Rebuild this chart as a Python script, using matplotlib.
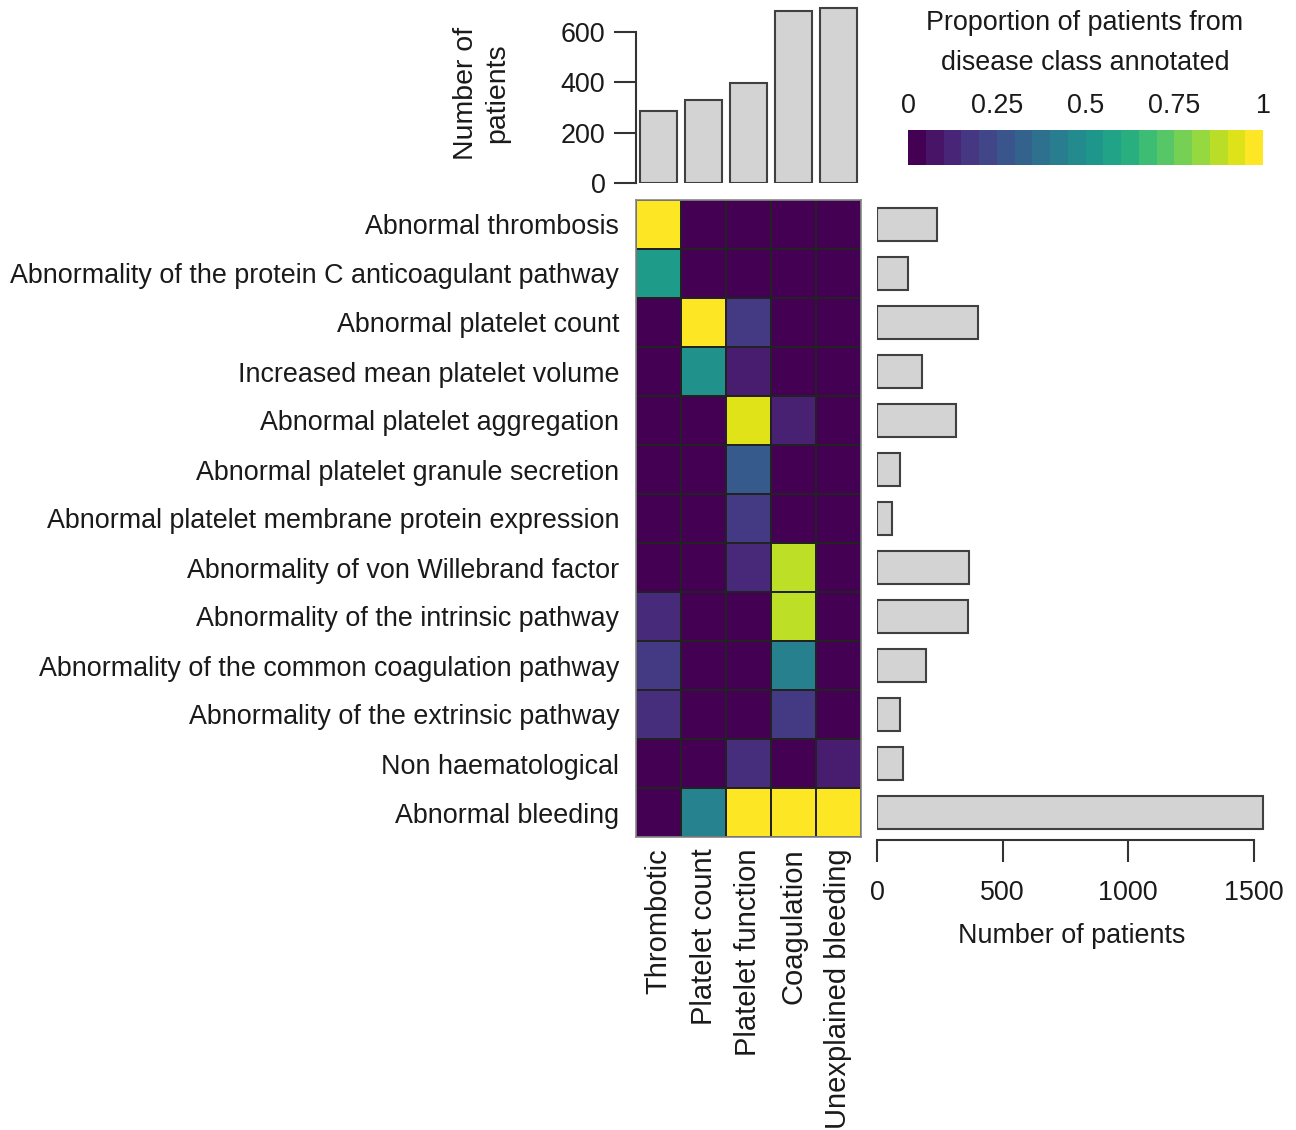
import numpy as np
import matplotlib.pyplot as plt
from matplotlib.colors import Normalize
from matplotlib.cm import ScalarMappable

plt.rcParams['font.family'] = ['Liberation Sans', 'DejaVu Sans']

#------------------------------------------------
# Data
#------------------------------------------------
classes = ["Thrombotic", "Platelet count", "Platelet function",
           "Coagulation", "Unexplained bleeding"]
class_counts = [285, 330, 398, 683, 697]

terms = ["Abnormal thrombosis",
         "Abnormality of the protein C anticoagulant pathway",
         "Abnormal platelet count",
         "Increased mean platelet volume",
         "Abnormal platelet aggregation",
         "Abnormal platelet granule secretion",
         "Abnormal platelet membrane protein expression",
         "Abnormality of von Willebrand factor",
         "Abnormality of the intrinsic pathway",
         "Abnormality of the common coagulation pathway",
         "Abnormality of the extrinsic pathway",
         "Non haematological",
         "Abnormal bleeding"]
term_counts = [239, 122, 401, 181, 315, 93, 59, 367, 362, 197, 93, 105, 1536]

# proportion of patients from each disease class annotated with each term
thrombotic = [1.00, 0.55, 0.00, 0.00, 0.00, 0.00, 0.00, 0.00, 0.12, 0.17, 0.13, 0.00, 0.00]
plt_count  = [0.00, 0.00, 1.00, 0.50, 0.00, 0.00, 0.00, 0.00, 0.00, 0.00, 0.00, 0.00, 0.44]
plt_func   = [0.00, 0.00, 0.17, 0.08, 0.95, 0.28, 0.17, 0.11, 0.00, 0.00, 0.00, 0.13, 1.00]
coag       = [0.00, 0.00, 0.00, 0.00, 0.09, 0.00, 0.00, 0.90, 0.90, 0.43, 0.17, 0.00, 1.00]
unexpl     = [0.00, 0.00, 0.00, 0.00, 0.00, 0.00, 0.00, 0.00, 0.00, 0.00, 0.00, 0.08, 1.00]

cbar_ticks = [0, 0.25, 0.5, 0.75, 1]
cbar_ticklabels = ["0", "0.25", "0.5", "0.75", "1"]

#------------------------------------------------
# Layout helpers (pixel based)
#------------------------------------------------
W, H = 1296, 1130
fig = plt.figure(figsize=(W / 100, H / 100), dpi=100)

def px_axes(x0, y0, x1, y1):
    # x0,y0 = top-left; x1,y1 = bottom-right in pixels
    return fig.add_axes([x0 / W, 1 - y1 / H, (x1 - x0) / W, (y1 - y0) / H])

FS = 19.4      # horizontal text
FS_ROT = 21    # rotated text
TXT = "#1a1a1a"
bar_face = "#d3d3d3"
bar_edge = "#404040"

#------------------------------------------------
# Heatmap
#------------------------------------------------
hx0, hy0, hx1, hy1 = 636, 200, 861, 837
ax = px_axes(hx0, hy0, hx1, hy1)
mat = np.array([thrombotic, plt_count, plt_func, coag, unexpl]).T
ax.pcolormesh(mat, cmap="viridis", vmin=0, vmax=1, edgecolors="#222222", linewidth=1.4)
ax.set_xlim(0, len(classes))
ax.set_ylim(len(terms), 0)
ax.set_yticks(np.arange(len(terms)) + 0.5)
ax.set_yticklabels(terms, fontsize=FS, color=TXT)
ax.set_xticks(np.arange(len(classes)) + 0.5)
ax.set_xticklabels(classes, rotation=90, fontsize=FS_ROT, color=TXT, va="top")
ax.tick_params(axis="x", length=0, pad=8)
ax.tick_params(axis="y", length=0, pad=12)
for s in ax.spines.values():
    s.set_color("#888888")
    s.set_linewidth(1.2)

#------------------------------------------------
# Top bar chart: patients per disease class
#------------------------------------------------
px_per = (183 - 32) / 600
top_y = 4
axt = px_axes(hx0, top_y, hx1, 183)
axt.bar(np.arange(len(classes)) + 0.5, class_counts, width=0.84,
        color=bar_face, edgecolor=bar_edge, linewidth=1.5)
axt.set_xlim(0, len(classes))
axt.set_ylim(0, (183 - top_y) / px_per)
axt.set_yticks([0, 200, 400, 600])
axt.spines["left"].set_bounds(0, 600)
axt.spines["left"].set_color("#333333")
axt.spines["left"].set_linewidth(1.5)
for s in ["top", "right", "bottom"]:
    axt.spines[s].set_visible(False)
axt.set_xticks([])
axt.tick_params(axis="y", length=16, width=1.5, color="#333333",
                labelsize=FS, pad=6, labelcolor=TXT)
axt.set_ylabel("Number of\npatients", fontsize=20.5, labelpad=36,
               linespacing=1.3, color=TXT)

#------------------------------------------------
# Right bar chart: patients per term
#------------------------------------------------
px_per_x = (1253.7 - 877) / 1500
rx0, rx1 = 877, 1266
axr = px_axes(rx0, hy0, rx1, hy1)
axr.barh(np.arange(len(terms)) + 0.5, term_counts, height=0.66,
         color=bar_face, edgecolor=bar_edge, linewidth=1.5)
axr.set_ylim(len(terms), 0)
axr.set_xlim(0, (rx1 - rx0) / px_per_x)
axr.set_xticks([0, 500, 1000, 1500])
axr.spines["bottom"].set_bounds(0, 1500)
axr.spines["bottom"].set_position(("outward", 2))
axr.spines["bottom"].set_color("#333333")
axr.spines["bottom"].set_linewidth(1.5)
for s in ["top", "right", "left"]:
    axr.spines[s].set_visible(False)
axr.set_yticks([])
axr.tick_params(axis="x", length=16, width=1.5, color="#333333",
                labelsize=FS, pad=13, labelcolor=TXT)
axr.set_xlabel("Number of patients", fontsize=FS, labelpad=12, color=TXT)

#------------------------------------------------
# Colour key (20 steps of viridis)
#------------------------------------------------
axc = px_axes(908, 130, 1263, 165)
sm = ScalarMappable(norm=Normalize(0, 1), cmap=plt.get_cmap("viridis", 20))
cb = fig.colorbar(sm, cax=axc, orientation="horizontal")
cb.outline.set_visible(False)
cb.set_ticks(cbar_ticks)
cb.set_ticklabels(cbar_ticklabels)
axc.xaxis.set_ticks_position("top")
axc.tick_params(length=0, labelsize=FS, pad=8, labelcolor=TXT)
fig.text(1085 / W, 1 - 43 / H, "Proportion of patients from\ndisease class annotated",
         ha="center", va="center", fontsize=FS, linespacing=1.7, color=TXT)

fig.savefig("out.png", dpi=100)
